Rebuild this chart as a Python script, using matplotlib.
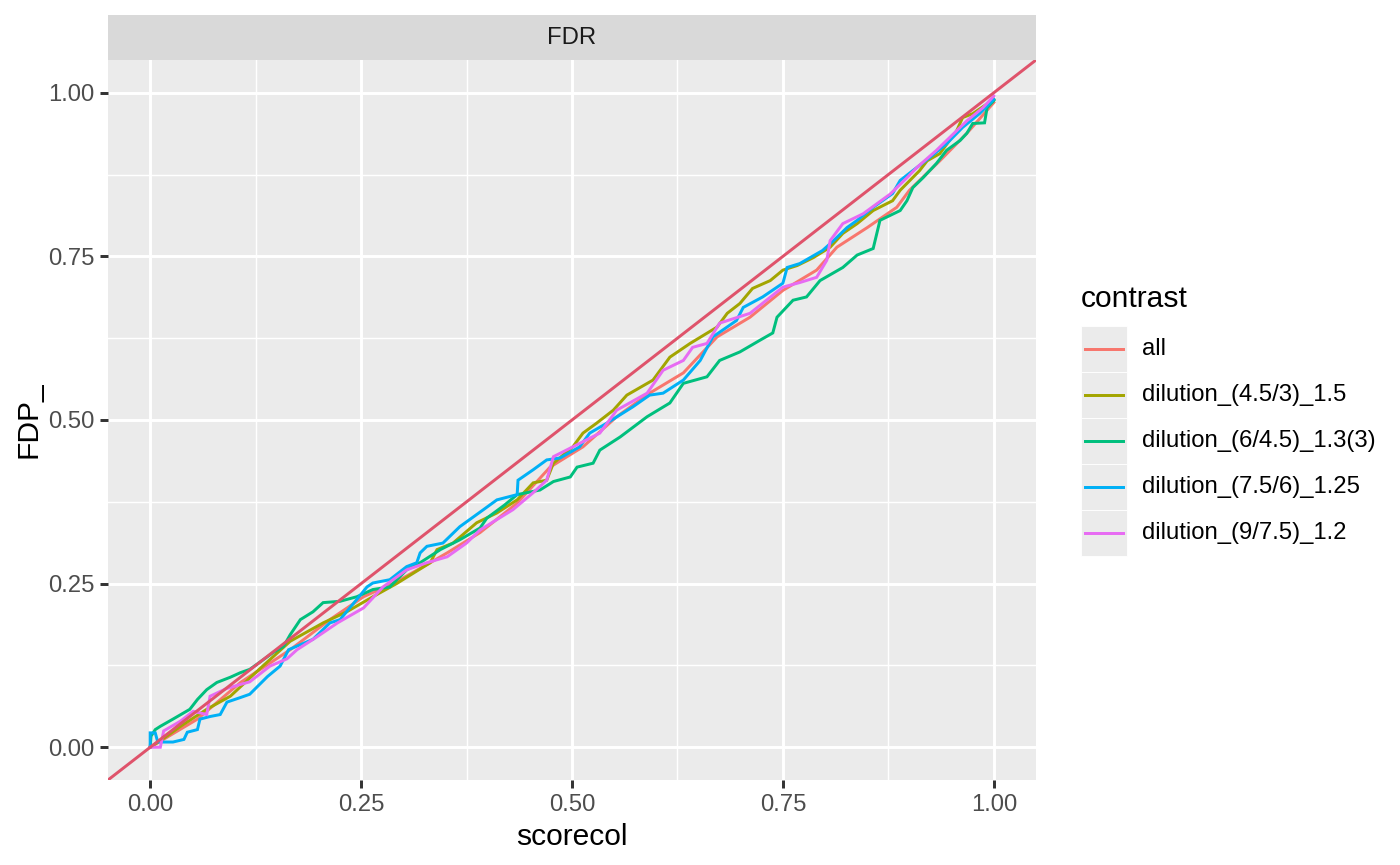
import matplotlib
matplotlib.use('Agg')
import matplotlib.pyplot as plt
from matplotlib.patches import Rectangle
from matplotlib.lines import Line2D

plt.rcParams['font.family'] = ['Liberation Sans', 'DejaVu Sans']

# values (scorecol, FDP_)
all_x = [0, 0.056, 0.107, 0.166, 0.213, 0.253, 0.292, 0.332, 0.352, 0.391, 0.435, 0.474, 0.513,
         0.553, 0.592, 0.632, 0.672, 0.711, 0.75, 0.79, 0.814, 0.85, 0.885, 0.9, 0.936, 0.968, 1.0]
all_y = [0, 0.043, 0.099, 0.149, 0.195, 0.23, 0.253, 0.282, 0.297, 0.328, 0.373, 0.428, 0.459,
         0.505, 0.541, 0.572, 0.627, 0.657, 0.698, 0.729, 0.764, 0.794, 0.825, 0.851, 0.896, 0.938, 0.985]

d45_x = [0, 0.012, 0.036, 0.067, 0.095, 0.13, 0.166, 0.205, 0.233, 0.264, 0.292, 0.332, 0.34, 0.359,
         0.387, 0.411, 0.435, 0.454, 0.47, 0.478, 0.501, 0.513, 0.529, 0.549, 0.565, 0.596, 0.616,
         0.64, 0.672, 0.684, 0.699, 0.714, 0.735, 0.75, 0.767, 0.786, 0.806, 0.821, 0.838, 0.857,
         0.88, 0.889, 0.912, 0.921, 0.936, 0.956, 0.963, 0.975, 1.0]
d45_y = [0, 0.01, 0.032, 0.058, 0.078, 0.12, 0.162, 0.19, 0.207, 0.23, 0.25, 0.282, 0.302, 0.312,
         0.343, 0.358, 0.378, 0.404, 0.408, 0.434, 0.459, 0.48, 0.495, 0.515, 0.538, 0.561, 0.596,
         0.617, 0.642, 0.663, 0.678, 0.701, 0.713, 0.729, 0.736, 0.748, 0.764, 0.785, 0.8, 0.82,
         0.835, 0.851, 0.881, 0.896, 0.907, 0.942, 0.962, 0.968, 0.99]

d6_x = [0, 0.001, 0.006, 0.012, 0.027, 0.047, 0.056, 0.067, 0.079, 0.095, 0.107, 0.118, 0.13, 0.146,
        0.158, 0.166, 0.178, 0.193, 0.205, 0.225, 0.245, 0.264, 0.284, 0.304, 0.32, 0.344, 0.367,
        0.391, 0.399, 0.42, 0.435, 0.462, 0.478, 0.498, 0.506, 0.525, 0.533, 0.557, 0.589, 0.616,
        0.632, 0.66, 0.675, 0.699, 0.723, 0.738, 0.743, 0.762, 0.778, 0.794, 0.821, 0.838, 0.857,
        0.863, 0.865, 0.889, 0.897, 0.904, 0.916, 0.932, 0.944, 0.96, 0.968, 0.975, 0.989, 0.992, 1.0]
d6_y = [0, 0.017, 0.027, 0.032, 0.043, 0.058, 0.073, 0.088, 0.099, 0.107, 0.114, 0.119, 0.13, 0.145,
        0.154, 0.172, 0.195, 0.207, 0.221, 0.223, 0.23, 0.241, 0.245, 0.271, 0.282, 0.302, 0.317,
        0.335, 0.35, 0.37, 0.386, 0.393, 0.406, 0.413, 0.428, 0.434, 0.454, 0.474, 0.505, 0.526,
        0.556, 0.566, 0.591, 0.604, 0.622, 0.633, 0.657, 0.683, 0.688, 0.713, 0.733, 0.752, 0.762,
        0.794, 0.805, 0.82, 0.835, 0.855, 0.87, 0.892, 0.912, 0.927, 0.938, 0.953, 0.954, 0.977, 0.988]

d75_x = [0, 0.0, 0.006, 0.009, 0.027, 0.04, 0.044, 0.056, 0.059, 0.071, 0.083, 0.091, 0.107, 0.118,
         0.139, 0.154, 0.164, 0.193, 0.213, 0.225, 0.245, 0.257, 0.264, 0.284, 0.304, 0.316, 0.32,
         0.328, 0.347, 0.367, 0.395, 0.411, 0.435, 0.436, 0.454, 0.47, 0.486, 0.509, 0.521, 0.541,
         0.572, 0.592, 0.608, 0.632, 0.652, 0.667, 0.695, 0.703, 0.726, 0.75, 0.755, 0.77, 0.797,
         0.81, 0.826, 0.838, 0.857, 0.88, 0.889, 0.904, 0.924, 0.944, 0.963, 0.983, 1.0]
d75_y = [0, 0.022, 0.022, 0.008, 0.008, 0.012, 0.023, 0.027, 0.043, 0.047, 0.05, 0.069, 0.076, 0.081,
         0.108, 0.124, 0.149, 0.165, 0.19, 0.195, 0.226, 0.245, 0.251, 0.256, 0.276, 0.282, 0.297,
         0.307, 0.312, 0.337, 0.363, 0.378, 0.386, 0.408, 0.424, 0.439, 0.442, 0.459, 0.48, 0.495,
         0.52, 0.538, 0.541, 0.561, 0.591, 0.627, 0.652, 0.672, 0.688, 0.709, 0.733, 0.739, 0.759,
         0.774, 0.794, 0.805, 0.825, 0.846, 0.866, 0.881, 0.901, 0.922, 0.947, 0.968, 0.99]

d9_x = [0, 0.012, 0.016, 0.036, 0.051, 0.067, 0.071, 0.091, 0.107, 0.118, 0.142, 0.162, 0.174, 0.198,
        0.222, 0.253, 0.276, 0.304, 0.328, 0.352, 0.375, 0.391, 0.43, 0.454, 0.47, 0.478, 0.501,
        0.533, 0.553, 0.589, 0.608, 0.632, 0.643, 0.66, 0.675, 0.711, 0.75, 0.77, 0.79, 0.802,
        0.806, 0.821, 0.845, 0.877, 0.897, 0.909, 0.932, 0.944, 0.968, 0.987, 1.0]
d9_y = [0, 0, 0.025, 0.04, 0.055, 0.05, 0.078, 0.09, 0.096, 0.1, 0.124, 0.135, 0.149, 0.169,
        0.19, 0.213, 0.245, 0.271, 0.282, 0.291, 0.312, 0.332, 0.363, 0.389, 0.408, 0.444, 0.459,
        0.48, 0.515, 0.541, 0.576, 0.591, 0.611, 0.617, 0.648, 0.663, 0.703, 0.71, 0.718, 0.744,
        0.774, 0.8, 0.815, 0.845, 0.87, 0.886, 0.912, 0.927, 0.957, 0.977, 0.995]

labels = ['all', 'dilution_(4.5/3)_1.5', 'dilution_(6/4.5)_1.3(3)',
          'dilution_(7.5/6)_1.25', 'dilution_(9/7.5)_1.2']
colors = ['#F8766D', '#A3A500', '#00BF7D', '#00B0F6', '#E76BF3']
series = [(all_x, all_y), (d45_x, d45_y), (d6_x, d6_y), (d75_x, d75_y), (d9_x, d9_y)]

W, H = 1400, 865
def fx(px): return px / W
def fy(py): return 1 - py / H

fig = plt.figure(figsize=(7, 4.325), dpi=200)
ax = fig.add_axes([fx(108), fy(780), fx(1036) - fx(108), fy(60) - fy(780)])
ax.set_facecolor('#EBEBEB')
for s in ax.spines.values():
    s.set_visible(False)

lw = 1.07
for (x, y), c in zip(series, colors):
    ax.plot(x, y, color=c, lw=lw, solid_joinstyle='miter')

ax.set_xlim(-0.05, 1.05)
ax.set_ylim(-0.05, 1.05)
ax.axline((0, 0), slope=1, color='#DF536B', lw=lw)

major = [0, 0.25, 0.5, 0.75, 1.0]
minor = [0.125, 0.375, 0.625, 0.875]
ax.set_xticks(major)
ax.set_yticks(major)
ax.set_xticklabels(['0.00', '0.25', '0.50', '0.75', '1.00'])
ax.set_yticklabels(['0.00', '0.25', '0.50', '0.75', '1.00'])
ax.set_xticks(minor, minor=True)
ax.set_yticks(minor, minor=True)
ax.grid(which='major', color='white', lw=lw)
ax.grid(which='minor', color='white', lw=lw / 2)
ax.set_axisbelow(True)
ax.tick_params(which='major', direction='out', length=2.75, width=lw, color='#333333',
               labelcolor='#4D4D4D', labelsize=8.6, pad=2.2)
ax.tick_params(which='minor', length=0)

ax.set_xlabel('scorecol', fontsize=10.8, labelpad=2.5)
ax.set_ylabel('FDP_', fontsize=10.8, labelpad=2)

# facet strip
fig.add_artist(Rectangle((fx(108), fy(60)), fx(1036) - fx(108), fy(15) - fy(60),
                         transform=fig.transFigure, facecolor='#D9D9D9', edgecolor='none'))
fig.text(fx(572), fy(37.5), 'FDR', ha='center', va='center', fontsize=8.6, color='#1A1A1A')

# legend
fig.text(fx(1081), fy(299), 'contrast', ha='left', va='center', fontsize=10.8)
key_top = 326
key_h = 46
for i, (lab, c) in enumerate(zip(labels, colors)):
    top = key_top + i * key_h
    fig.add_artist(Rectangle((fx(1081), fy(top + key_h)), fx(46), key_h / H,
                             transform=fig.transFigure, facecolor='#EBEBEB',
                             edgecolor='white', lw=0.3))
    cy = fy(top + key_h / 2)
    fig.add_artist(Line2D([fx(1085), fx(1123)], [cy, cy], transform=fig.transFigure,
                          color=c, lw=lw))
    fig.text(fx(1142), cy, lab, ha='left', va='center', fontsize=8.6)

fig.savefig('out.png', dpi=200, facecolor='white')
